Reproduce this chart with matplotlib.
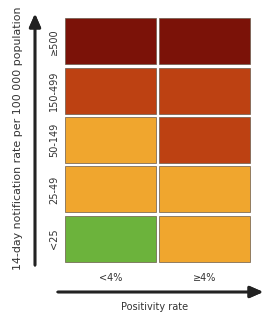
import matplotlib.pyplot as plt

# 数据：行从下到上，列从左到右
rate_labels = ['<25', '25-49', '50-149', '150-499', '≥500']
positivity_labels = ['<4%', '≥4%']
# 风险等级 0=绿 1=橙 2=红橙 3=深红
risk_lt4 = [0, 1, 1, 2, 3]
risk_ge4 = [1, 1, 2, 2, 3]
level_colors = ['#6cb33c', '#f0a62e', '#bd4112', '#7b1208']

fig = plt.figure(figsize=(2.66, 3.16), dpi=100)
W, H = 266, 316
ax = fig.add_axes([63.5 / W, 1 - 263.5 / H, 188 / W, 247 / H])

for col, risks in enumerate([risk_lt4, risk_ge4]):
    for row, r in enumerate(risks):
        ax.bar(col, 0.93, bottom=row - 0.465, width=0.975,
               color=level_colors[r], edgecolor='#6a5a4a', linewidth=0.5)

ax.set_xlim(-0.5, 1.5)
ax.set_ylim(-0.5, 4.5)
ax.set_xticks(range(len(positivity_labels)))
ax.set_xticklabels(positivity_labels, fontsize=7, color='#333333')
ax.set_yticks(range(len(rate_labels)))
ax.set_yticklabels(rate_labels, fontsize=7, rotation=90, va='center', color='#333333')
ax.tick_params(length=0)
ax.tick_params(axis='x', pad=7)
ax.tick_params(axis='y', pad=3)
for s in ax.spines.values():
    s.set_visible(False)

# 坐标轴箭头
fig.add_artist(plt.annotate('', xy=(35 / W, 1 - 11 / H), xytext=(35 / W, 1 - 268 / H),
                            xycoords='figure fraction', textcoords='figure fraction',
                            arrowprops=dict(arrowstyle='-|>,head_length=0.8,head_width=0.35',
                                            color='#222222', lw=1.9)))
fig.add_artist(plt.annotate('', xy=(266 / W, 1 - 292 / H), xytext=(55 / W, 1 - 292 / H),
                            xycoords='figure fraction', textcoords='figure fraction',
                            arrowprops=dict(arrowstyle='-|>,head_length=0.8,head_width=0.35',
                                            color='#222222', lw=1.9)))

fig.text(18 / W, 1 - 138 / H, '14-day notification rate per 100 000 population',
         rotation=90, ha='center', va='center', fontsize=7.9, color='#333333')
fig.text(155 / W, 1 - 307 / H, 'Positivity rate', ha='center', va='center',
         fontsize=7, color='#333333')

fig.savefig('out.png', dpi=100)
